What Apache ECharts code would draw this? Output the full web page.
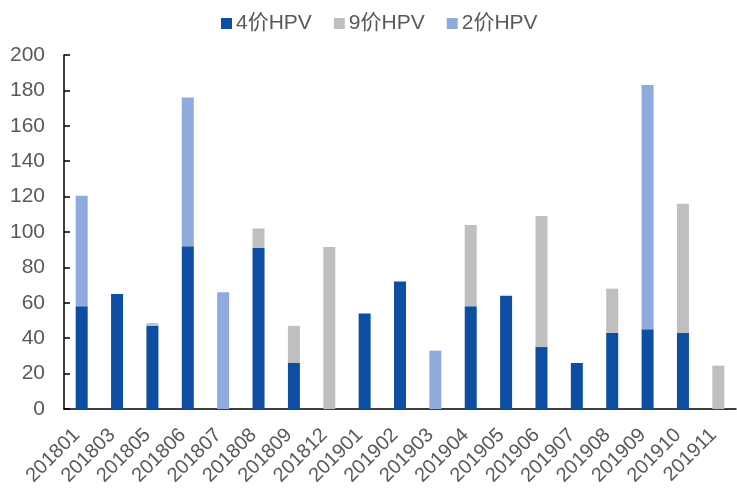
<!DOCTYPE html>
<html><head><meta charset="utf-8">
<script src="https://cdn.jsdelivr.net/npm/echarts@6/dist/echarts.min.js"></script>
<style>html,body{margin:0;padding:0;background:#fff}#c{width:737px;height:489px}</style>
</head><body><div id="c"></div>
<script>
const categories = ['201801','201803','201805','201806','201807','201808','201809','201812','201901','201902','201903','201904','201905','201906','201907','201908','201909','201910','201911'];
const hpv4 = [58,65,47,92,0,91,26,0,54,72,0,58,64,35,26,43,45,43,0];
const hpv9 = [0,0,1.5,0,0,11,21,91.5,0,0,0,46,0,74,0,25,0,73,24.5];
const hpv2 = [62.5,0,0,84,66,0,0,0,0,0,33,0,0,0,0,0,138,0,0];
const yTicks = [0,20,40,60,80,100,120,140,160,180,200];

const chart = echarts.init(document.getElementById('c'));
const font = 'Arial, "Liberation Sans", "Noto Sans CJK SC", sans-serif';
const mk = (name, data, color) => ({
  name, type: 'bar', stack: 't', data, barWidth: 12,
  itemStyle: { color }, emphasis: { disabled: true }
});
chart.setOption({
  animation: false,
  textStyle: { fontFamily: font },
  legend: {
    top: 8, left: 216, itemWidth: 11, itemHeight: 11, itemGap: 22,
    icon: 'rect',
    textStyle: { fontSize: 21, color: '#595959', fontFamily: font, padding: [0,0,0,-1] },
    data: ['4价HPV','9价HPV','2价HPV']
  },
  grid: { left: 64, right: 1, top: 55, bottom: 80, containLabel: false },
  xAxis: {
    type: 'category', data: categories,
    axisLine: { lineStyle: { color: '#000', width: 1.5 } },
    axisTick: { inside: true, length: 6, lineStyle: { color: '#000', width: 1.5 } },
    axisLabel: { rotate: 45, fontSize: 20, color: '#595959', margin: 18, padding: [0,7,0,0], fontFamily: font, interval: 0 }
  },
  yAxis: {
    type: 'value', min: yTicks[0], max: yTicks[yTicks.length-1], interval: 20,
    splitLine: { show: false },
    axisLine: { show: true, lineStyle: { color: '#000', width: 1.5 } },
    axisTick: { show: true, inside: true, length: 6, lineStyle: { color: '#000', width: 1.5 } },
    axisLabel: { fontSize: 21, color: '#595959', margin: 19, fontFamily: font }
  },
  series: [
    mk('4价HPV', hpv4, '#0D4EA3'),
    mk('9价HPV', hpv9, '#BFBFBF'),
    mk('2价HPV', hpv2, '#8FABDD')
  ]
});
</script></body></html>
